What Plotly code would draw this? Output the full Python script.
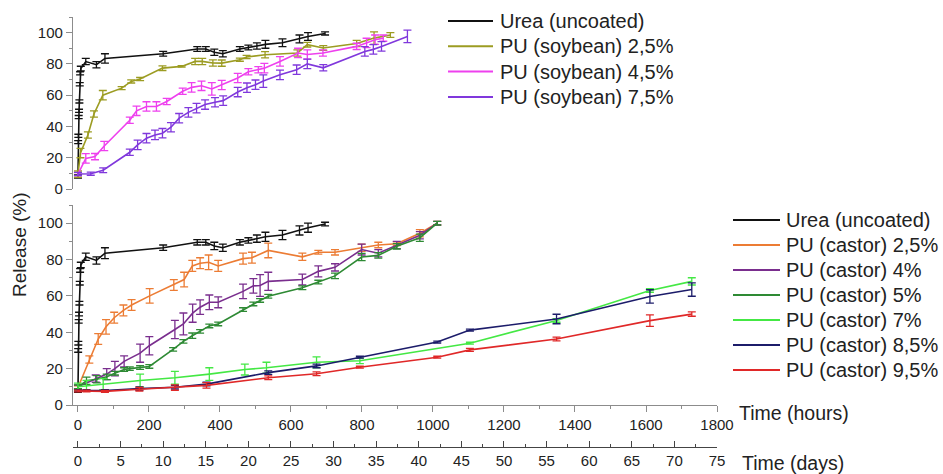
import plotly.graph_objects as go

# ---------------- data (hours, release %, error) ----------------
urea_h = [0, 0.5, 1, 2, 3, 4, 5, 6, 8, 22, 52, 76, 240, 336, 360, 384, 408, 456, 480, 504, 528, 576, 624, 648, 696]
urea_v = [8, 30, 34, 46, 50, 56, 67, 74, 77, 81.5, 79.5, 83.5, 86.5, 89.5, 89.5, 87.5, 86.5, 89.5, 90.5, 91.5, 92.5, 93.5, 96, 97.5, 99.5]
urea_e = [1, 1, 1, 1, 1, 1, 1, 1, 1.5, 2, 2, 3, 1.5, 1.5, 1.5, 2, 2, 1.5, 1.5, 2, 2.5, 2.5, 2.5, 2.5, 1]

soy25_h = [0, 7, 28, 45, 70, 123, 150, 175, 238, 292, 330, 350, 380, 405, 456, 475, 527, 618, 646, 691, 785, 834, 880]
soy25_v = [9.5, 23, 34.5, 48, 60, 64.5, 68.8, 70.3, 77.3, 78.4, 81.6, 81.6, 80.6, 80.5, 82.7, 84.4, 85.9, 87, 92.3, 90.2, 93, 96.5, 98.5]
soy25_e = [2, 3, 2, 2, 3, 1, 1, 1, 1.5, 0.5, 2, 2, 2, 2, 1, 1, 2, 2, 1.5, 1.5, 2, 4, 1.5]

soy45_h = [0, 22, 48, 74, 146, 165, 193, 221, 250, 295, 320, 348, 377, 405, 450, 480, 508, 525, 569, 620, 646, 690, 785, 813, 837, 860]
soy45_v = [9.5, 19.6, 20.7, 27.5, 44, 50, 52.8, 52.8, 56, 62.5, 65, 66, 64, 66.5, 71, 75, 76.3, 77.3, 81.6, 87, 86, 87, 91.2, 93.4, 95.5, 96.5]
soy45_e = [1, 3, 2, 3, 2, 3, 3, 3, 2, 2, 3, 3, 4, 3, 3, 2, 2, 3, 3, 3, 3, 2, 2, 3, 3, 2]

soy75_h = [0, 36, 71, 146, 168, 193, 217, 238, 262, 285, 311, 334, 358, 386, 409, 450, 476, 500, 522, 569, 616, 646, 691, 808, 832, 855, 928]
soy75_v = [9.6, 9.8, 12, 23.5, 28.2, 32.5, 34.6, 35.7, 39.5, 45.3, 49, 51.7, 54, 55.5, 56.5, 62, 64.8, 66.7, 69, 73, 76.3, 80, 77.5, 88, 89.3, 91.2, 97.6]
soy75_e = [1, 1, 1.5, 2, 3, 3, 3, 3, 3, 3, 3, 3, 3, 3, 3, 3, 3, 3, 4, 3, 3, 3, 2, 3, 3, 3, 4]

c25_h = [0, 32, 57, 79, 102, 128, 151, 202, 270, 299, 322, 344, 368, 395, 465, 490, 536, 632, 677, 724, 799, 846, 898, 963, 1012]
c25_v = [9.6, 25, 36.3, 43, 48, 52, 55, 60, 66, 69, 76.5, 78, 78.5, 76.5, 80.5, 81, 85, 81.5, 84, 84, 86.5, 88, 88.7, 94.5, 100]
c25_e = [1, 2, 3, 4, 3, 3, 3, 4, 3, 4, 3, 3, 4, 3, 3, 3, 4, 2, 1, 1.5, 2, 1.5, 1, 2, 1]

c4_h = [0, 50, 81, 104, 130, 175, 201, 273, 297, 323, 344, 370, 395, 465, 494, 513, 536, 632, 677, 724, 799, 846, 898, 963, 1012]
c4_v = [10, 14.5, 17, 20, 24, 28.5, 32.6, 41.5, 44.6, 50.5, 53.8, 56.5, 56.5, 62.5, 65.5, 65.7, 68, 69, 73.5, 75.7, 85.5, 83.5, 88, 93.4, 100]
c4_e = [1, 2, 3, 4, 3, 5, 5, 5, 6, 5, 4, 4, 3, 4, 4, 6, 5, 3, 3, 2, 3, 2, 2, 2, 1]

c5_h = [0, 24, 53, 81, 104, 130, 146, 175, 201, 268, 297, 322, 344, 370, 395, 465, 494, 513, 536, 632, 677, 724, 799, 846, 898, 963, 1012]
c5_v = [10, 13.3, 14.2, 15.5, 17.5, 19.5, 20, 20.6, 21.2, 30.6, 35, 38.1, 40.5, 43.5, 44.6, 52.5, 55.6, 57.5, 59.8, 64.5, 67.6, 71, 81.4, 82.3, 87.3, 92, 100]
c5_e = [1, 2, 2, 1.5, 1, 1, 1, 1, 1, 1, 1, 1.5, 1, 1, 1, 1, 1, 1, 1, 1, 1, 1.5, 2, 1.5, 1.5, 2, 1]

c7_h = [0, 24, 71, 175, 273, 370, 470, 531, 672, 794, 1104, 1348, 1611, 1729]
c7_v = [10, 10.5, 11.5, 13.5, 15, 17, 19.5, 20.5, 23.5, 24.3, 34, 46.5, 63, 68]
c7_e = [2, 3, 3, 3.5, 3.5, 3.5, 3, 3, 3, 1.5, 0.5, 1, 1, 2]

c85_h = [0, 24, 76, 173, 273, 362, 536, 672, 794, 1012, 1104, 1348, 1611, 1729]
c85_v = [8, 8, 8, 9, 9.8, 11.5, 17.8, 21.5, 26.3, 34.6, 41.2, 47.3, 59.7, 63.5]
c85_e = [0.5, 0.5, 0.5, 1, 1, 1, 1, 1, 0.5, 0.5, 0.5, 2.6, 3.7, 3.7]

c95_h = [0, 24, 76, 173, 273, 362, 536, 672, 794, 1012, 1104, 1348, 1611, 1729]
c95_v = [7.7, 7.7, 7.5, 8.7, 9.6, 10.8, 15, 17.2, 20.8, 26.3, 30.3, 36.3, 46.4, 50]
c95_e = [0.5, 0.5, 0.5, 1, 1.5, 1.5, 1, 1, 0.5, 0.5, 0.8, 1, 3.2, 1.2]

hour_ticks = [0, 200, 400, 600, 800, 1000, 1200, 1400, 1600, 1800]
day_ticks = [0, 5, 10, 15, 20, 25, 30, 35, 40, 45, 50, 55, 60, 65, 70, 75]
y_ticks = [0, 20, 40, 60, 80, 100]

top_series = [
    ("Urea (uncoated)", urea_h, urea_v, urea_e, "#111111"),
    ("PU (soybean) 2,5%", soy25_h, soy25_v, soy25_e, "#9c9c22"),
    ("PU (soybean) 4,5%", soy45_h, soy45_v, soy45_e, "#ee40ee"),
    ("PU (soybean) 7,5%", soy75_h, soy75_v, soy75_e, "#8038dc"),
]
bottom_series = [
    ("Urea (uncoated)", urea_h, urea_v, urea_e, "#111111"),
    ("PU (castor) 2,5%", c25_h, c25_v, c25_e, "#ec7c34"),
    ("PU (castor) 4%", c4_h, c4_v, c4_e, "#7a2e8e"),
    ("PU (castor) 5%", c5_h, c5_v, c5_e, "#2e8a34"),
    ("PU (castor) 7%", c7_h, c7_v, c7_e, "#44e844"),
    ("PU (castor) 8,5%", c85_h, c85_v, c85_e, "#1c1c6a"),
    ("PU (castor) 9,5%", c95_h, c95_v, c95_e, "#e02828"),
]

FONT = "Liberation Sans, Arial, sans-serif"
TXT = "#222222"
fig = go.Figure()

# plot-area geometry in pixels (used to place paper-referenced items)
L, R, T, B = 73, 717, 17, 447


def px(xp):
    return (xp - L) / (R - L)


def py(yp):
    return (B - yp) / (B - T)


def add(series, xa, ya):
    for name, h, v, e, col in series:
        fig.add_trace(go.Scatter(
            x=h, y=v, name=name, mode="lines", showlegend=False,
            xaxis=xa, yaxis=ya,
            line=dict(color=col, width=1.6),
            error_y=dict(type="data", array=e, visible=True, color=col,
                         thickness=1.3, width=4),
        ))


add(top_series, "x2", "y2")
add(bottom_series, "x", "y")

# dummy trace to register the days axis
fig.add_trace(go.Scatter(x=[0], y=[None], xaxis="x3", yaxis="y",
                         showlegend=False, hoverinfo="skip", mode="markers"))

shapes, annotations = [], []


def legend_block(series, x0, x1, xt, y0, dy):
    for i, (name, _h, _v, _e, col) in enumerate(series):
        yy = y0 + dy * i
        shapes.append(dict(type="line", xref="paper", yref="paper",
                           x0=px(x0), x1=px(x1), y0=py(yy), y1=py(yy),
                           line=dict(color=col, width=2)))
        annotations.append(dict(text=name, xref="paper", yref="paper",
                                x=px(xt), y=py(yy), xanchor="left", yanchor="middle",
                                showarrow=False,
                                font=dict(family=FONT, size=20, color=TXT)))


legend_block(top_series, 448, 493, 498, 21, 25.3)
legend_block(bottom_series, 733, 780, 784, 220, 25)

annotations += [
    dict(text="Release (%)", x=px(20), y=py(245), xanchor="center", yanchor="middle",
         xref="paper", yref="paper", textangle=-90, showarrow=False,
         font=dict(family=FONT, size=19, color=TXT)),
    dict(text="Time (hours)", x=px(737), y=py(413),
         xref="paper", yref="paper", xanchor="left", yanchor="middle",
         showarrow=False, font=dict(family=FONT, size=19.5, color=TXT)),
    dict(text="Time (days)", x=px(740), y=py(463),
         xref="paper", yref="paper", xanchor="left", yanchor="middle",
         showarrow=False, font=dict(family=FONT, size=19.5, color=TXT)),
]

axcol = "#8c8c8c"
tickfont = dict(family=FONT, size=15, color=TXT)
H0 = -14
bot_dom = [py(405), py(205)]
top_dom = [py(189), 1.0]

common_y = dict(range=[0, 110], tickvals=y_ticks, showline=True, linecolor=axcol,
                linewidth=1.3, ticks="outside", ticklen=6, tickcolor=axcol,
                minor=dict(dtick=10, ticks="outside", ticklen=3, tickcolor=axcol),
                showgrid=False, zeroline=False, tickfont=tickfont)

fig.update_layout(
    width=943, height=474,
    margin=dict(l=L, r=943 - R, t=T, b=474 - B, autoexpand=False),
    paper_bgcolor="white", plot_bgcolor="white",
    font=dict(family=FONT, color=TXT),
    showlegend=False,
    xaxis=dict(domain=[0, 1], anchor="y", range=[H0, 1800], tickvals=hour_ticks,
               showline=True, linecolor=axcol, linewidth=1.3, ticks="outside",
               ticklen=6, tickcolor=axcol,
               minor=dict(dtick=100, ticks="outside", ticklen=3, tickcolor=axcol),
               showgrid=False, zeroline=False, tickfont=tickfont),
    xaxis2=dict(domain=[0, 1], anchor="y2", matches="x", visible=False),
    xaxis3=dict(domain=[0, 1], anchor="free", position=0, overlaying="x",
                range=[H0 / 24, 75], tickvals=day_ticks, showline=True,
                linecolor="#444444", linewidth=1.3, ticks="inside", ticklen=6,
                tickcolor="#444444",
                minor=dict(dtick=2.5, ticks="inside", ticklen=3, tickcolor="#444444"),
                showgrid=False, zeroline=False, tickfont=tickfont),
    yaxis=dict(domain=bot_dom, anchor="x", **common_y),
    yaxis2=dict(domain=top_dom, anchor="x2", **common_y),
    shapes=shapes,
    annotations=annotations,
)

fig.write_html("out.html", config={"displayModeBar": False},
               post_script="document.body.style.margin='0px';")
